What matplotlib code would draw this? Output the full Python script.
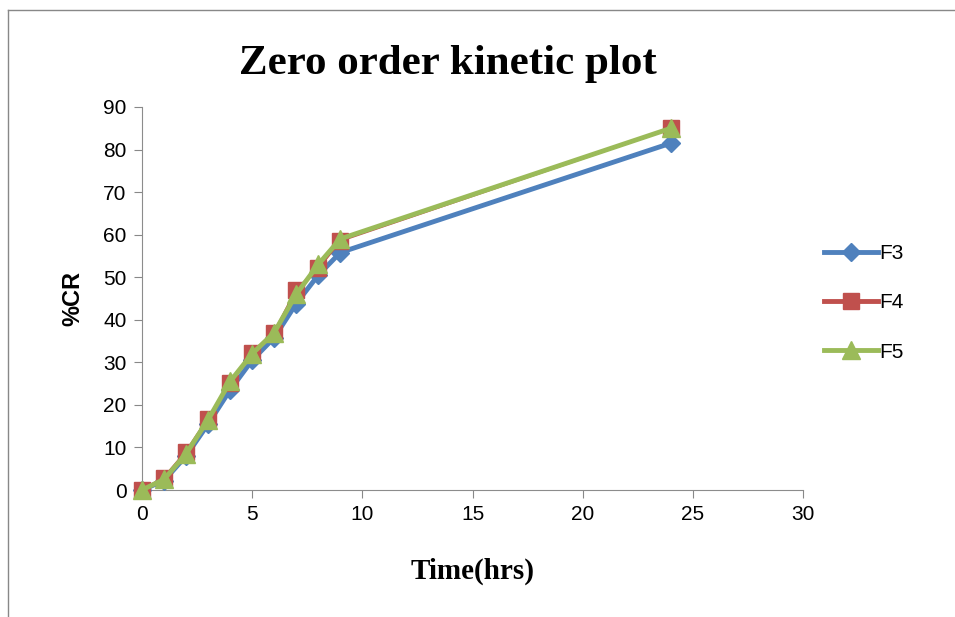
import matplotlib
matplotlib.use("Agg")
import matplotlib.pyplot as plt
from matplotlib.lines import Line2D

# 데이터
time_hrs = [0, 1, 2, 3, 4, 5, 6, 7, 8, 9, 24]
f3 = [0, 2.2, 8, 15.5, 23.5, 30.5, 35.8, 43.8, 50.5, 55.8, 81.5]
f4 = [0, 2.9, 9.0, 16.8, 25.1, 32.3, 37.0, 47.0, 52.1, 58.6, 85.0]
f5 = [0, 2.5, 8.5, 16.5, 25.5, 32.0, 37.0, 46.0, 53.0, 59.0, 85.0]
x_ticks = [0, 5, 10, 15, 20, 25, 30]
y_ticks = [0, 10, 20, 30, 40, 50, 60, 70, 80, 90]

fig = plt.figure(figsize=(9.55, 6.17), dpi=100)
W, H = 955, 617
ax = fig.add_axes([142 / W, 1 - 490 / H, (803 - 142) / W, (490 - 107) / H])

ax.plot(time_hrs, f3, color="#4F81BD", lw=3.5, marker="D", markersize=9,
        label="F3", zorder=3)
ax.plot(time_hrs, f4, color="#C0504D", lw=2, marker="s", markersize=11,
        label="F4", zorder=4)
ax.plot(time_hrs, f5, color="#9BBB59", lw=3.5, marker="^", markersize=13,
        label="F5", zorder=5)

ax.set_xlim(0, 30)
ax.set_ylim(0, 90)
ax.set_xticks(x_ticks)
ax.set_yticks(y_ticks)
ax.tick_params(direction="out", length=6, color="#888888", labelsize=15, pad=5)
for lab in ax.get_xticklabels() + ax.get_yticklabels():
    lab.set_family("Liberation Sans")
ax.spines["top"].set_visible(False)
ax.spines["right"].set_visible(False)
ax.spines["left"].set_color("#8c8c8c")
ax.spines["bottom"].set_color("#8c8c8c")
for ln in ax.lines:
    ln.set_clip_on(False)

ax.set_xlabel("Time(hrs)", family="Liberation Serif", fontweight="bold",
              fontsize=21, labelpad=24)
ax.set_ylabel("%CR", family="Liberation Sans", fontweight="bold",
              fontsize=17, labelpad=14)

fig.text(448 / W, 1 - 64 / H, "Zero order kinetic plot", family="Liberation Serif",
         fontweight="bold", fontsize=31, ha="center", va="center")

handles = [
    Line2D([], [], color="#4F81BD", lw=3.5, marker="D", markersize=9),
    Line2D([], [], color="#C0504D", lw=3.5, marker="s", markersize=11),
    Line2D([], [], color="#9BBB59", lw=3.5, marker="^", markersize=13),
]
leg = fig.legend(handles, ["F3", "F4", "F5"], loc="center left",
                 bbox_to_anchor=(805 / W, 1 - 303 / H), frameon=False,
                 prop={"family": "Liberation Sans", "size": 15},
                 handlelength=2.6, handletextpad=0.05, labelspacing=1.45)

# 바깥 테두리
fig.add_artist(Line2D([8 / W, 1], [1 - 10 / H, 1 - 10 / H], color="#888888", lw=1))
fig.add_artist(Line2D([8 / W, 8 / W], [0, 1 - 10 / H], color="#888888", lw=1))

fig.savefig("out.png", dpi=100)
